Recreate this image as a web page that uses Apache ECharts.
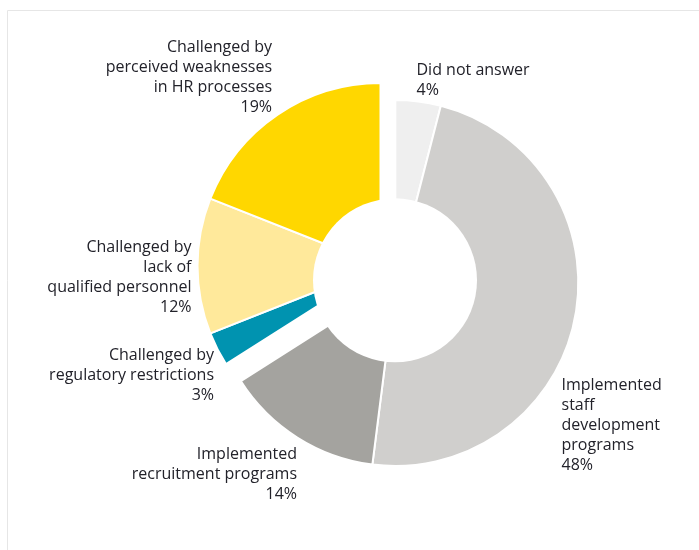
<!DOCTYPE html>
<html>
<head>
<meta charset="utf-8">
<script src="https://cdn.jsdelivr.net/npm/echarts@6/dist/echarts.min.js"></script>
<style>
  html, body { margin: 0; padding: 0; background: #ffffff; }
  #chart { width: 699px; height: 550px; }
</style>
</head>
<body>
<div id="chart"></div>
<script>
// Survey answers, clockwise from twelve o'clock
const categories = [
  'Did not answer',
  'Implemented\nstaff\ndevelopment\nprograms',
  'Implemented\nrecruitment programs',
  'Challenged by\nregulatory restrictions',
  'Challenged by\nlack of\nqualified personnel',
  'Challenged by\nperceived weaknesses\nin HR processes'
];
const shares = [4, 48, 14, 3, 12, 19];
// Which ring group each answer belongs to (the "challenged" group is pulled out)
const groups = ['base', 'base', 'base', 'pulled', 'pulled', 'pulled'];

// Styling and layout (kept apart from the data)
const sliceColors = ['#efefef', '#d0cfcd', '#a4a39f', '#0093b0', '#ffe99b', '#ffd700'];
const groupCenters = { base: [395.3, 283], pulled: [380.5, 266] };
const outerRadius = 183;
const labelAnchors = [
  { x: 416.5, y: 60.5, align: 'left'  },
  { x: 561.5, y: 375.5, align: 'left'  },
  { x: 297,   y: 444.5, align: 'right' },
  { x: 214,   y: 345.5, align: 'right' },
  { x: 191.5, y: 237.5, align: 'right' },
  { x: 272,   y: 37.5,  align: 'right' }
];
const textColor = '#22222a';
const fontFamily = 'Open Sans';

function groupSeries(groupName) {
  return {
    type: 'pie',
    center: groupCenters[groupName],
    radius: outerRadius,
    startAngle: 90,
    clockwise: true,
    avoidLabelOverlap: false,
    animation: false,
    silent: true,
    labelLine: { show: false },
    labelLayout: function (params) {
      const a = labelAnchors[params.dataIndex];
      return { x: a.x, y: a.y, align: a.align, verticalAlign: 'top' };
    },
    data: shares.map(function (v, i) {
      const inGroup = groups[i] === groupName;
      return {
        name: categories[i],
        value: v,
        itemStyle: inGroup
          ? { color: sliceColors[i], borderColor: '#ffffff', borderWidth: 2 }
          : { color: 'rgba(0,0,0,0)', borderWidth: 0 },
        label: inGroup
          ? {
              show: true,
              position: 'outside',
              formatter: '{b}\n{c}%',
              color: textColor,
              fontFamily: fontFamily,
              fontSize: 16,
              lineHeight: 20
            }
          : { show: false }
      };
    })
  };
}

const chart = echarts.init(document.getElementById('chart'), null, { renderer: 'canvas' });
chart.setOption({
  backgroundColor: '#ffffff',
  textStyle: { fontFamily: fontFamily },
  graphic: [
    {
      type: 'rect',
      z: -10,
      silent: true,
      shape: { x: 7.5, y: 10.5, width: 900, height: 800 },
      style: { fill: 'none', stroke: '#e6e6e6', lineWidth: 1 }
    },
    {
      type: 'circle',
      z: 100,
      silent: true,
      shape: { cx: 395, cy: 280.3, r: 82 },
      style: { fill: '#ffffff' }
    }
  ],
  series: [groupSeries('base'), groupSeries('pulled')]
});
</script>
</body>
</html>
